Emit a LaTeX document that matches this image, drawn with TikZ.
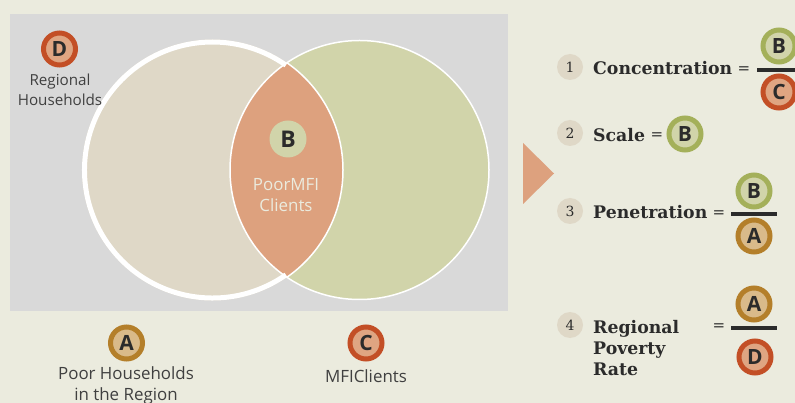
\documentclass[tikz,border=0pt]{standalone}
\usepackage{fontspec}
\setmainfont{Open Sans}
\newfontfamily\termfont{DejaVu Serif}
\definecolor{page_bg}{HTML}{EBEBDE}
\definecolor{panel_bg}{HTML}{D9D9D9}
\definecolor{tan_fill}{HTML}{DFD8C7}
\definecolor{sage_fill}{HTML}{D1D4AA}
\definecolor{lens_fill}{HTML}{DDA17E}
\definecolor{gold_ring}{HTML}{B47F2A}
\definecolor{gold_fill}{HTML}{D9BA8A}
\definecolor{rust_ring}{HTML}{C34F26}
\definecolor{rust_fill}{HTML}{DFA582}
\definecolor{olive_ring}{HTML}{A4B05A}
\definecolor{ink}{HTML}{2B2B2B}
\definecolor{label_ink}{HTML}{404040}
\begin{document}
\begin{tikzpicture}[x=1pt, y=-1pt,
               badge_style/.style={circle,line width=5pt,minimum size=32pt,inner sep=0pt,text=ink,font=\fontsize{21}{21}\selectfont\bfseries},
               badge_a/.style={badge_style,draw=gold_ring,fill=gold_fill},
               badge_b/.style={badge_style,draw=olive_ring,fill=sage_fill},
               badge_c/.style={badge_style,draw=rust_ring,fill=rust_fill},
               badge_d/.style={badge_style,draw=rust_ring,fill=rust_fill},
               number_style/.style={circle,fill=tan_fill,minimum size=26pt,inner sep=0pt,text=ink,font=\termfont\fontsize{14}{14}\selectfont},
               term_style/.style={anchor=base west,align=left,inner sep=0pt,text=ink,font=\termfont\fontsize{17.3}{21}\selectfont\bfseries},
               equals_style/.style={inner sep=0pt,text=ink,font=\termfont\fontsize{15}{15}\selectfont},
               bar_style/.style={fill=ink,inner sep=0pt,minimum height=4pt},
               label_style/.style={align=center,inner sep=0pt,text=label_ink,font=\fontsize{16.9}{20.5}\selectfont}]
                \useasboundingbox (0,0) rectangle (795,403);
                \fill[page_bg] (0,0) rectangle (795,403);
                \fill[panel_bg] (10,14) rectangle (508,311);

                % venn
                \coordinate (left_c) at (212.5,170);
                \coordinate (right_c) at (359.5,170);
                \fill[tan_fill] (left_c) circle (130.5);
                \fill[sage_fill] (right_c) circle (129.5);
                \begin{scope}
                    \clip (left_c) circle (130.5);
                    \fill[lens_fill] (right_c) circle (129.5);
                \end{scope}
                \draw[white,line width=1.5pt] (right_c) circle (129.5);
                \begin{scope}
                    \clip (right_c) circle (129.5);
                    \draw[white,line width=1.5pt] (left_c) circle (130.5);
                \end{scope}
                \draw[white,line width=5pt] ([shift={(55:128)}]left_c) arc (55:305:128);

                \node[badge_d] (d_key) at (59.5,49) {D};
                \node[label_style,font=\fontsize{15.2}{20}\selectfont] (d_label) at (60,90) {Regional\\Households};
                \node[circle,fill=sage_fill,minimum size=37pt,inner sep=0pt,text=ink,font=\fontsize{23}{23}\selectfont\bfseries] (b_key) at (288,139) {B};
                \node[label_style,text=page_bg] (b_label) at (286,195) {PoorMFI\\Clients};
                \node[badge_a] (a_key) at (126.5,343) {A};
                \node[label_style] (a_label) at (126,385.5) {Poor Households\\in the Region};
                \node[badge_c] (c_key) at (366,343) {C};
                \node[label_style] (c_label) at (366,376) {MFIClients};

                \fill[lens_fill] (523,143) -- (554,173.5) -- (523,204) -- cycle;

                % concentration
                \node[number_style] (n1) at (570,67) {1};
                \node[term_style] (t1) at (593,74.5) {Concentration};
                \node[equals_style] (e1) at (744,70) {=};
                \node[bar_style,minimum width=46pt] (f1) at (780,70) {};
                \node[badge_b] (f1_top) at (779,46) {B};
                \node[badge_c] (f1_bot) at (779,92) {C};

                % scale
                \node[number_style] (n2) at (570,133) {2};
                \node[term_style] (t2) at (593,141.5) {Scale};
                \node[equals_style] (e2) at (657,136) {=};
                \node[badge_b] (s2) at (685,134) {B};

                % penetration
                \node[number_style] (n3) at (570,211) {3};
                \node[term_style] (t3) at (593,218.5) {Penetration};
                \node[equals_style] (e3) at (719,214) {=};
                \node[bar_style,minimum width=46pt] (f3) at (754,214) {};
                \node[badge_b] (f3_top) at (754,191) {B};
                \node[badge_a] (f3_bot) at (754,236) {A};

                % regional poverty rate
                \node[number_style] (n4) at (570,325) {4};
                \node[term_style] (t4) at (593,375) {Regional\\Poverty\\Rate};
                \node[equals_style] (e4) at (719,327.5) {=};
                \node[bar_style,minimum width=46pt] (f4) at (754,328) {};
                \node[badge_a] (f4_top) at (754,304) {A};
                \node[badge_d] (f4_bot) at (755,357) {D};
            \end{tikzpicture}
\end{document}
